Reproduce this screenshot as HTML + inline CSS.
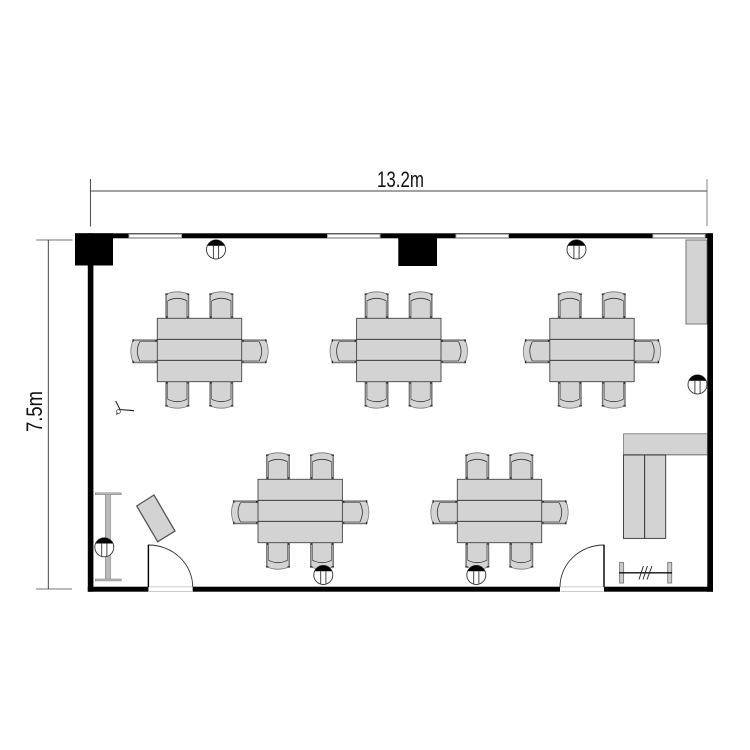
<!DOCTYPE html>
<html>
<head>
<meta charset="utf-8">
<style>
html,body{margin:0;padding:0;background:#fff;width:750px;height:750px;overflow:hidden}
svg{display:block}
text{font-family:"Liberation Sans",sans-serif;fill:#111}
</style>
</head>
<body>
<svg width="750" height="750" viewBox="0 0 750 750" xmlns="http://www.w3.org/2000/svg">
<defs>
  <g id="chair">
    <path d="M-11.5 0V-24Q0 -29 11.5 -24V0Z" fill="#d4d4d4" stroke="none"/>
    <path d="M-11.5 -24Q0 -29 11.5 -24" fill="none" stroke="#777" stroke-width="0.8"/>
    <path d="M-11.2 0V-24M11.2 0V-24" stroke="#777" stroke-width="1.5" fill="none"/>
    <path d="M-9.6 0V-17.5M9.6 0V-17.5" stroke="#444" stroke-width="0.6" fill="none"/>
    <path d="M-9.6 -17.5Q0 -22.5 9.6 -17.5" stroke="#333" stroke-width="0.8" fill="none"/>
    <path d="M-12 -24.2H-9.5M9.5 -24.2H12M-10.6 -2V-0.5M10.6 -2V-0.5" stroke="#222" stroke-width="1.3"/>
  </g>
  <g id="set">
    <use href="#chair" x="20" y="0"/>
    <use href="#chair" x="64" y="0"/>
    <use href="#chair" transform="translate(20 63.4) scale(1 -1)"/>
    <use href="#chair" transform="translate(64 63.4) scale(1 -1)"/>
    <use href="#chair" transform="translate(0 33) rotate(-90)"/>
    <use href="#chair" transform="translate(84.4 33) rotate(90)"/>
    <rect x="0" y="0" width="84.4" height="63.4" fill="#d3d3d3" stroke="#444" stroke-width="0.9"/>
    <path d="M0 21H84.4M0 42H84.4" stroke="#222" stroke-width="0.9"/>
  </g>
  <g id="lamp">
    <circle r="9.5" fill="#fff" stroke="#333" stroke-width="0.9"/>
    <path d="M-8.7 -3.8A9.5 9.5 0 0 1 8.7 -3.8Z" fill="#000"/>
    <path d="M-2.6 -3.8V9.1M2.6 -3.8V9.1" stroke="#333" stroke-width="0.9"/>
  </g>
</defs>

<!-- dimensions -->
<path d="M90.4 179V226.5" stroke="#333" stroke-width="0.9"/>
<path d="M707 179V226" stroke="#999" stroke-width="1.2"/>
<path d="M90.4 191H707" stroke="#444" stroke-width="0.9"/>
<text x="377" y="187" font-size="22" textLength="47" lengthAdjust="spacingAndGlyphs">13.2m</text>
<path d="M36 240H72.5M36 589H72" stroke="#777" stroke-width="1"/>
<path d="M48.3 240V589" stroke="#333" stroke-width="0.9"/>
<text transform="translate(42 432) rotate(-90)" font-size="22" textLength="41" lengthAdjust="spacingAndGlyphs">7.5m</text>

<!-- furniture -->
<use href="#set" x="157.3" y="318.3"/>
<use href="#set" x="356.6" y="318.3"/>
<use href="#set" x="549.8" y="318.3"/>
<use href="#set" x="258" y="479.3"/>
<use href="#set" x="457.3" y="479.3"/>

<rect x="686" y="240" width="21" height="84" fill="#d3d3d3" stroke="#777" stroke-width="1"/>

<rect x="623.5" y="433.5" width="84" height="21.5" fill="#d3d3d3"/>
<path d="M623.5 433.7H707" stroke="#888" stroke-width="1"/>
<path d="M623.5 433.5V455" stroke="#777" stroke-width="0.8"/>
<path d="M623.5 454.8H707" stroke="#777" stroke-width="1.2"/>
<rect x="623.5" y="455" width="21.2" height="83.4" fill="#d3d3d3" stroke="#333" stroke-width="0.9"/>
<rect x="644.7" y="455" width="21" height="83.4" fill="#d3d3d3" stroke="#333" stroke-width="0.9"/>

<!-- rack -->
<rect x="619.6" y="562.5" width="4" height="20.5" fill="#ccc" stroke="#777" stroke-width="0.9"/>
<rect x="667.7" y="562.5" width="4" height="20.5" fill="#ccc" stroke="#777" stroke-width="0.9"/>
<path d="M619 572.8H672" stroke="#111" stroke-width="1.4"/>
<path d="M639 579.5L643.4 566M643 579.5L647.4 566M647 579.5L652 566" stroke="#222" stroke-width="0.9"/>

<!-- whiteboard -->
<rect x="105.4" y="494" width="5" height="86" fill="#bbb" stroke="#888" stroke-width="0.7"/>
<rect x="95.3" y="492.8" width="26" height="1.9" fill="#bbb" stroke="#888" stroke-width="0.6"/>
<rect x="95.3" y="579" width="26" height="1.9" fill="#bbb" stroke="#888" stroke-width="0.6"/>

<!-- slanted desk -->
<path d="M136.7 506L154 495L175 531L157.7 541.7Z" fill="#d3d3d3" stroke="#555" stroke-width="1.3"/>

<!-- tripod -->
<path d="M115.7 401L120 409.5L134 410.7M120 409.5L116.5 414.5" fill="none" stroke="#222" stroke-width="1.1"/>
<circle cx="118.5" cy="411.5" r="1.9" fill="#fff" stroke="#333" stroke-width="0.7"/>

<!-- walls -->
<rect x="87.8" y="233.3" width="5.6" height="358.4" fill="#000"/>
<rect x="75" y="233.3" width="638" height="5" fill="#000"/>
<rect x="707.3" y="233.3" width="5.7" height="358.4" fill="#000"/>
<rect x="87.8" y="586.7" width="60.6" height="5" fill="#000"/>
<rect x="192.7" y="586.7" width="367.3" height="5" fill="#000"/>
<rect x="604" y="586.7" width="109" height="5" fill="#000"/>
<rect x="75" y="233.3" width="38" height="32.2" fill="#000"/>
<rect x="398.3" y="236" width="38.7" height="30" fill="#000"/>

<!-- windows -->
<g fill="#fff" stroke="#aaa" stroke-width="1">
  <rect x="129" y="234.4" width="52.5" height="3.2"/>
  <rect x="327.5" y="234.4" width="52.5" height="3.2"/>
  <rect x="456" y="234.4" width="52.5" height="3.2"/>
  <rect x="653" y="234.4" width="52" height="3.2"/>
</g>

<!-- doors -->
<path d="M148.4 587V545A44.3 42 0 0 1 192.7 587" fill="#fff" stroke="#333" stroke-width="0.9"/>
<path d="M148.4 545V587" stroke="#000" stroke-width="1.4"/>
<path d="M604 587V545A44 42 0 0 0 560 587" fill="#fff" stroke="#333" stroke-width="0.9"/>
<path d="M604 545V587" stroke="#000" stroke-width="1.4"/>
<path d="M149 586.9H192.5M149 591.5H192.5M560.5 586.9H603.5M560.5 591.5H603.5" stroke="#bbb" stroke-width="0.8"/>

<!-- lamps -->
<use href="#lamp" x="216" y="249.5"/>
<use href="#lamp" x="576.5" y="249.5"/>
<use href="#lamp" x="697.5" y="384.5"/>
<use href="#lamp" x="104.3" y="547.3"/>
<use href="#lamp" x="323.3" y="575"/>
<use href="#lamp" x="476.3" y="575"/>
</svg>
</body>
</html>
